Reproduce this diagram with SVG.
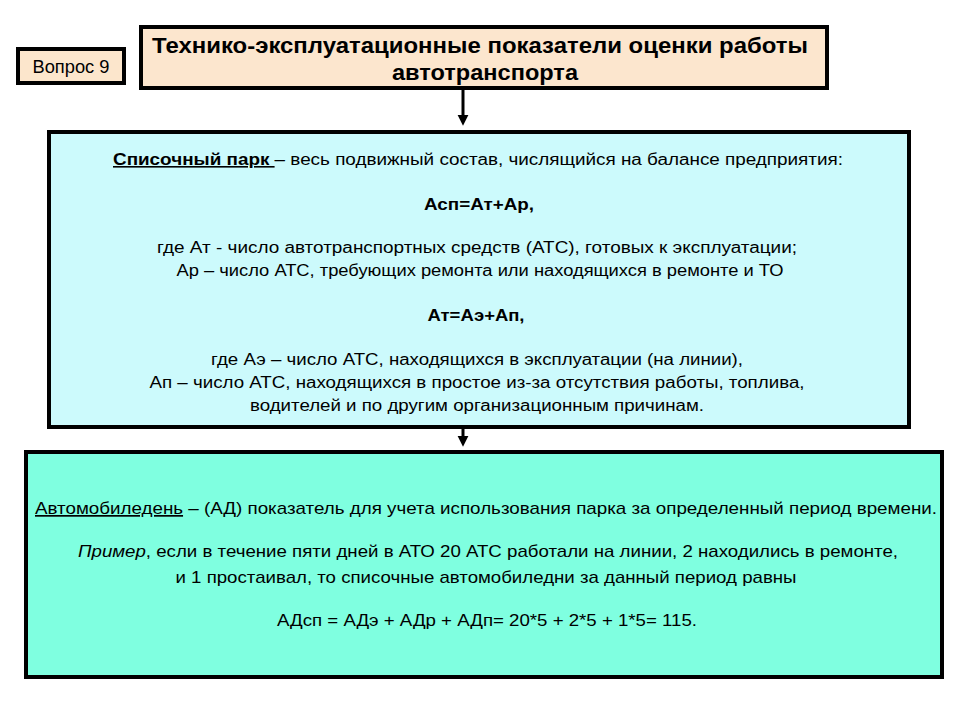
<svg xmlns="http://www.w3.org/2000/svg" width="960" height="720" viewBox="0 0 960 720">
<style>
text{font-family:"Liberation Sans",Arial,sans-serif;fill:#000;text-anchor:middle}
.t{font-size:22px;font-weight:bold}
.b2{font-size:16px}
.b3{font-size:17px}
.bold{font-weight:bold}
.u{text-decoration:underline}
.box{stroke:#000;stroke-width:4}
.con{stroke:#000;stroke-width:3;fill:none}
</style>
<defs>
<marker id="ah" markerWidth="4" markerHeight="4" refX="2" refY="2" orient="auto" markerUnits="strokeWidth">
<path d="M0,0.2 L3.6,2 L0,3.8 Z" fill="#000"/>
</marker>
</defs>
<rect width="960" height="720" fill="#fff"/>
<g id="connectors">
<line class="con" x1="463" y1="89" x2="463" y2="121" marker-end="url(#ah)"/>
<line class="con" x1="463" y1="428" x2="463" y2="442" marker-end="url(#ah)"/>
</g>
<g id="vopros">
<rect class="box" x="18" y="49" width="106" height="34" fill="#FCE6CC"/>
<text x="71" y="73" style="font-size:18px" textLength="77" lengthAdjust="spacingAndGlyphs">Вопрос 9</text>
</g>
<g id="title">
<rect class="box" x="141" y="27" width="686" height="61" fill="#FCE6CE" stroke-width="5"/>
<text class="t" x="480" y="53" textLength="656" lengthAdjust="spacingAndGlyphs">Технико-эксплуатационные показатели оценки работы</text>
<text class="t" x="485" y="80" textLength="186" lengthAdjust="spacingAndGlyphs">автотранспорта</text>
</g>
<g id="spisochny">
<rect class="box" x="49" y="132" width="860" height="295" fill="#CCFAFC"/>
<text class="b2" x="478" y="165" textLength="730" lengthAdjust="spacingAndGlyphs"><tspan class="bold u">Списочный парк </tspan>– весь  подвижный состав, числящийся на балансе предприятия:</text>
<text class="b2 bold" x="479" y="210" textLength="110" lengthAdjust="spacingAndGlyphs">Асп=Ат+Ар,</text>
<text class="b2" x="477" y="253" textLength="640" lengthAdjust="spacingAndGlyphs">где Ат  - число автотранспортных средств (АТС), готовых к эксплуатации;</text>
<text class="b2" x="480" y="276" textLength="607" lengthAdjust="spacingAndGlyphs">Ар – число АТС, требующих ремонта или находящихся в ремонте и ТО</text>
<text class="b2 bold" x="476" y="321" textLength="97" lengthAdjust="spacingAndGlyphs">Ат=Аэ+Ап,</text>
<text class="b2" x="477" y="365" textLength="532" lengthAdjust="spacingAndGlyphs">где Аэ – число АТС, находящихся в эксплуатации (на линии),</text>
<text class="b2" x="477" y="388" textLength="655" lengthAdjust="spacingAndGlyphs">Ап – число АТС, находящихся в простое из-за отсутствия работы, топлива,</text>
<text class="b2" x="477" y="411" textLength="454" lengthAdjust="spacingAndGlyphs">водителей и по другим организационным причинам.</text>
</g>
<g id="avtomobileden">
<rect class="box" x="26" y="452" width="916" height="225" fill="#7FFFE0" stroke-width="5"/>
<text class="b3" x="486" y="514" textLength="902" lengthAdjust="spacingAndGlyphs"><tspan class="u">Автомобиледень</tspan> – (АД)  показатель для учета использования парка за определенный период времени.</text>
<text class="b3" x="488" y="557" textLength="820" lengthAdjust="spacingAndGlyphs"><tspan font-style="italic">Пример</tspan>, если в течение пяти дней в АТО 20 АТС работали на линии, 2 находились в ремонте,</text>
<text class="b3" x="486" y="583" textLength="621" lengthAdjust="spacingAndGlyphs">и 1 простаивал, то списочные автомобиледни за данный период равны</text>
<text class="b3" x="487" y="626" textLength="420" lengthAdjust="spacingAndGlyphs">АДсп = АДэ + АДр + АДп= 20*5 + 2*5 + 1*5= 115.</text>
</g>
</svg>
